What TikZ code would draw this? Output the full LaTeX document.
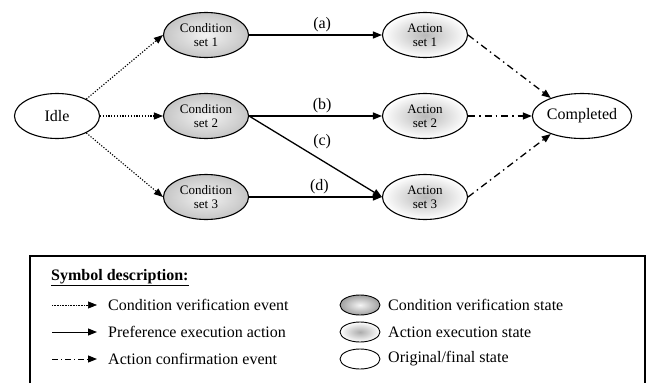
\documentclass[tikz,border=0pt]{standalone}
\usepackage{fontspec}
\setmainfont{Liberation Serif}
\usetikzlibrary{shapes.geometric,arrows.meta}

\begin{document}
\begin{tikzpicture}[
  x=1pt, y=-1pt,
  font=\fontsize{16}{18}\selectfont,
  state/.style={draw, ellipse, line width=1.1pt, minimum width=85pt, minimum height=45pt, inner sep=0pt, align=center},
  condstate/.style={state, font=\fontsize{13}{14}\selectfont, shading=radial, inner color=gray!10, outer color=gray!45},
  actstate/.style={state, font=\fontsize{13}{14}\selectfont, shading=radial, inner color=gray!55, outer color=white},
  legstate/.style={draw, ellipse, line width=0.9pt, minimum width=40pt, minimum height=20pt, inner sep=0pt},
  verify/.style={-{Triangle[length=9pt,width=7pt]}, line width=1.1pt, dash pattern=on 1.2pt off 1.6pt},
  execute/.style={-{Triangle[length=9pt,width=7pt]}, line width=1.3pt},
  confirm/.style={-{Triangle[length=9pt,width=7pt]}, line width=1.3pt, dash pattern=on 7pt off 4pt on 1.5pt off 4pt},
  lbl/.style={above, inner sep=2pt},
  legtext/.style={anchor=west, inner sep=0pt}
]
\useasboundingbox (0,0) rectangle (650,383);

\node[state] (idle) at (57,116) {Idle};

\node[condstate] (cond1) at (206,35) {Condition\\set 1};
\node[condstate] (cond2) at (206,116) {Condition\\set 2};
\node[condstate] (cond3) at (206,197) {Condition\\set 3};

\node[actstate] (act1) at (425,35) {Action\\set 1};
\node[actstate] (act2) at (425,116) {Action\\set 2};
\node[actstate] (act3) at (425,197) {Action\\set 3};

\node[state] (done) at (582,116) {Completed};

\draw[verify] (idle.30) -- (cond1.west);
\draw[verify] (idle.east) -- (cond2.west);
\draw[verify] (idle.-30) -- (cond3.west);

\draw[execute] (cond1.east) -- node[lbl, pos=0.55] {(a)} (act1.west);
\draw[execute] (cond2.east) -- node[lbl, pos=0.55] {(b)} (act2.west);
\draw[execute] (cond2.east) -- node[lbl, pos=0.55, above=9pt] {(c)} (act3.west);
\draw[execute] (cond3.east) -- node[lbl, pos=0.53] {(d)} (act3.west);

\draw[confirm] (act1.east) -- (done.150);
\draw[confirm] (act2.east) -- (done.west);
\draw[confirm] (act3.east) -- (done.210);

% legend
\draw[line width=1.1pt] (30,383) |- (645,256) -- (645,383);
\node[legtext, font=\fontsize{16}{18}\bfseries] (legtitle) at (51,278) {\underline{Symbol description:}};

\coordinate (v0) at (52,305);
\coordinate (v1) at (97,305);
\coordinate (e0) at (52,332);
\coordinate (e1) at (97,332);
\coordinate (c0) at (52,359);
\coordinate (c1) at (97,359);
\draw[verify, line width=0.6pt, dash pattern=on 0.8pt off 0.8pt] (v0) -- (v1);
\draw[execute, line width=1pt] (e0) -- (e1);
\draw[confirm, line width=1pt, dash pattern=on 6pt off 3pt on 1.2pt off 3pt] (c0) -- (c1);
\node[legtext] (vtext) at (108,305) {Condition verification event};
\node[legtext] (etext) at (108,332) {Preference execution action};
\node[legtext] (ctext) at (108,359) {Action confirmation event};

\node[legstate, shading=radial, inner color=gray!8, outer color=gray!75] (lcond) at (360,305) {};
\node[legstate, shading=radial, inner color=gray!65, outer color=white] (lact) at (360,332) {};
\node[legstate] (lidle) at (360,359) {};
\node[legtext] (lcondtext) at (388,305) {Condition verification state};
\node[legtext] (lacttext) at (388,332) {Action execution state};
\node[legtext] (lidletext) at (388,359) {Original/final state};
\end{tikzpicture}
\end{document}
